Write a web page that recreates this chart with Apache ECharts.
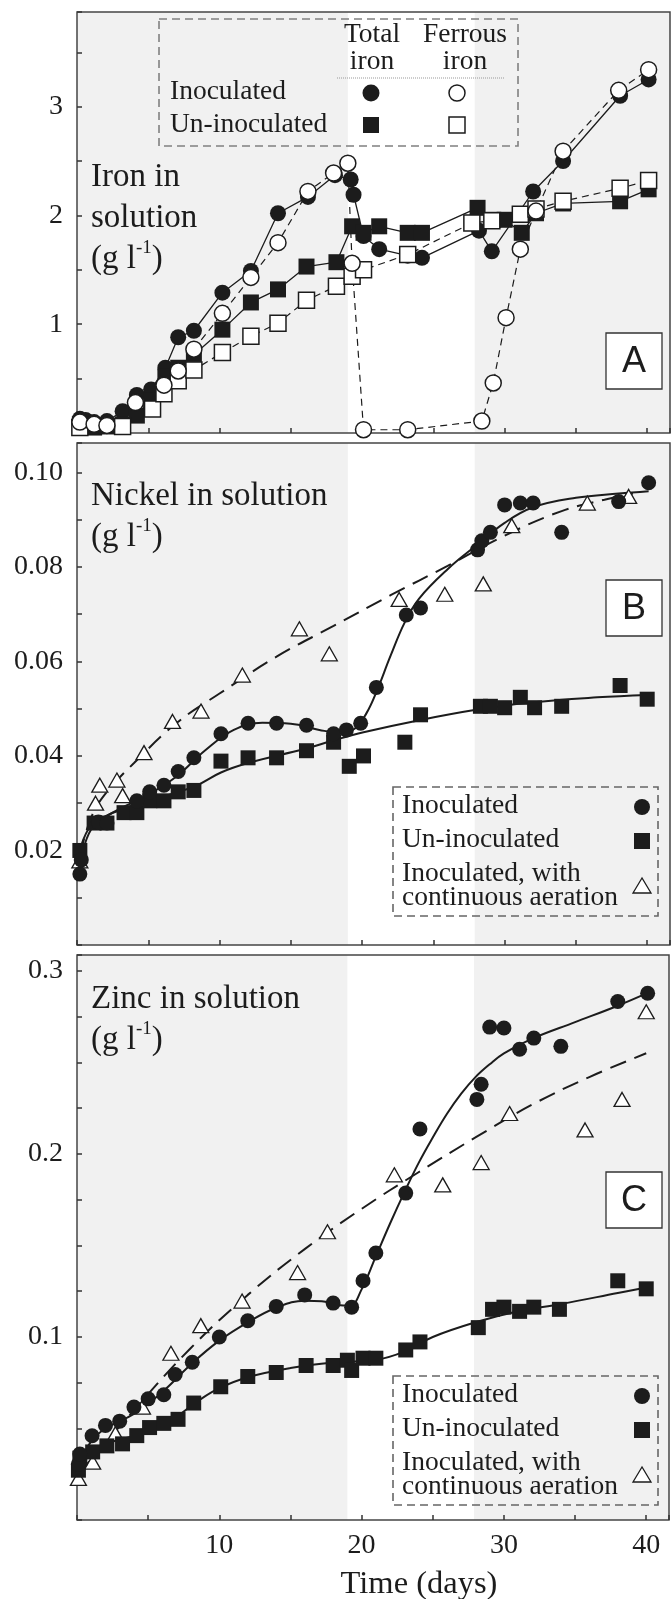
<!DOCTYPE html>
<html><head><meta charset="utf-8">
<script src="https://cdn.jsdelivr.net/npm/echarts@6/dist/echarts.min.js"></script>
<style>html,body{margin:0;padding:0;background:#fff}#c{width:672px;height:1599px}</style>
</head><body><div id="c"></div>
<script>
// ---------- shared ----------
const xTickLabels = [10, 20, 30, 40];
const xMax = 41.6;
const grayPeriods = [[0, 19], [27.9, 41.6]];

// ---------- Panel A : iron (g/l) ----------
const yTicksA = [1, 2, 3];
const ironTotalInoc = [[0.2,0.13],[0.6,0.12],[1.2,0.1],[2.1,0.11],[3.2,0.2],[4.2,0.35],[5.2,0.4],[6.2,0.6],[7.1,0.88],[8.2,0.94],[10.2,1.29],[12.2,1.49],[14.1,2.02],[16.2,2.17],[18.1,2.37],[19.2,2.33],[19.4,2.19],[20.1,1.81],[21.2,1.69],[23.2,1.63],[24.2,1.61],[28.2,1.86],[29.1,1.67],[32.0,2.22],[34.1,2.5],[38.1,3.1],[40.1,3.25]];
const ironTotalUninoc = [[0.2,0.08],[0.6,0.07],[1.2,0.05],[2.1,0.06],[3.2,0.08],[4.2,0.16],[5.2,0.3],[6.2,0.52],[7.1,0.6],[8.2,0.72],[10.2,0.95],[12.2,1.2],[14.1,1.32],[16.1,1.53],[18.2,1.57],[19.3,1.9],[20.1,1.84],[21.2,1.9],[23.2,1.84],[24.2,1.84],[28.1,2.07],[29.2,1.96],[30.0,1.96],[31.2,1.84],[32.2,2.02],[34.1,2.11],[38.1,2.13],[40.1,2.24]];
const ironFerrousInoc = [[0.2,0.1],[1.2,0.08],[2.1,0.07],[4.1,0.28],[6.1,0.44],[7.1,0.57],[8.2,0.77],[10.2,1.1],[12.2,1.43],[14.1,1.75],[16.2,2.22],[18.0,2.39],[19.0,2.48],[19.3,1.56],[20.1,0.03],[23.2,0.03],[28.4,0.11],[29.2,0.46],[30.1,1.06],[31.1,1.69],[32.2,2.04],[34.1,2.59],[38.0,3.15],[40.1,3.34]];
const ironFerrousUninoc = [[0.2,0.05],[3.2,0.06],[5.3,0.22],[6.1,0.36],[7.1,0.48],[8.2,0.58],[10.2,0.74],[12.2,0.89],[14.1,1.01],[16.1,1.22],[18.2,1.35],[19.3,1.44],[20.1,1.5],[23.2,1.64],[27.7,1.93],[29.1,1.95],[31.1,2.01],[32.2,2.06],[34.1,2.13],[38.1,2.25],[40.1,2.32]];

// ---------- Panel B : nickel (g/l) ----------
const yTicksB = [0.02, 0.04, 0.06, 0.08, 0.10];
const niInoc = [[0.2,0.015],[0.3,0.018],[1.5,0.026],[2.1,0.0258],[4.2,0.0305],[5.1,0.0324],[6.1,0.0338],[7.1,0.0367],[8.2,0.0396],[10.1,0.0447],[12.0,0.0469],[14.0,0.0469],[16.1,0.0465],[18.0,0.0447],[18.9,0.0455],[19.9,0.0469],[21.0,0.0545],[23.1,0.0698],[24.1,0.0713],[28.1,0.0836],[28.4,0.0855],[29.0,0.0873],[30.0,0.0931],[31.1,0.0935],[32.0,0.0935],[34.0,0.0873],[38.0,0.0938],[40.1,0.0978]];
const niUninoc = [[0.2,0.02],[1.2,0.0258],[2.1,0.0258],[3.3,0.028],[4.2,0.028],[5.1,0.0305],[6.1,0.0305],[7.1,0.0324],[8.2,0.0327],[10.1,0.0389],[12.0,0.0396],[14.0,0.0396],[16.1,0.0411],[18.0,0.0429],[19.1,0.0378],[20.1,0.04],[23.0,0.0429],[24.1,0.0487],[28.3,0.0505],[29.0,0.0505],[30.0,0.0502],[31.1,0.0524],[32.1,0.0502],[34.0,0.0505],[38.1,0.0549],[40.0,0.052]];
const niAerated = [[0.2,0.0178],[1.3,0.030],[1.6,0.0338],[2.8,0.0349],[3.2,0.0316],[4.7,0.0407],[6.7,0.0473],[8.7,0.0495],[11.6,0.0571],[15.6,0.0669],[17.7,0.0616],[22.6,0.0731],[25.8,0.0742],[28.5,0.0764],[30.5,0.0887],[35.8,0.0935],[38.7,0.0949]];
const niInocFit = [[0.2,0.017],[1,0.0245],[2.5,0.028],[5,0.0318],[7,0.0357],[9,0.0412],[11,0.0455],[13,0.047],[15,0.0468],[17,0.0455],[18.5,0.0449],[19.5,0.0458],[20.3,0.049],[21,0.0535],[22,0.0612],[23,0.0683],[24,0.0733],[26,0.0795],[28,0.0845],[30,0.0893],[32,0.0926],[35,0.0946],[38,0.0955],[40.1,0.096]];
const niUninocFit = [[0.2,0.02],[1.2,0.0258],[5.1,0.0305],[8.2,0.0335],[10.1,0.0365],[12,0.0385],[16,0.0415],[18,0.0433],[20.1,0.045],[24.1,0.0476],[28.1,0.0498],[31.8,0.0513],[36.5,0.0524],[40,0.0529]];
const niAeratedFit = [[0.2,0.019],[1,0.027],[2,0.032],[4,0.0385],[7,0.047],[10,0.0532],[14,0.061],[18,0.0675],[22,0.074],[26,0.0802],[30,0.0866],[34,0.0918],[37,0.0942],[39,0.0955]];

// ---------- Panel C : zinc (g/l) ----------
const yTicksC = [0.1, 0.2, 0.3];
const znInoc = [[0.1,0.0305],[0.2,0.036],[1.06,0.046],[2.0,0.0517],[3.0,0.054],[4.0,0.0617],[5.0,0.0662],[6.1,0.0684],[6.9,0.0795],[8.1,0.0862],[10.0,0.1],[12.0,0.1089],[14.0,0.1167],[16.0,0.123],[18.0,0.1185],[19.3,0.1163],[20.1,0.1307],[21.0,0.1459],[23.1,0.1786],[24.1,0.2136],[28.1,0.2298],[28.4,0.2381],[29.0,0.2693],[30.0,0.2688],[31.1,0.2572],[32.1,0.2633],[34.0,0.2588],[38.0,0.2833],[40.1,0.2878]];
const znUninoc = [[0.1,0.0272],[0.2,0.0338],[1.1,0.0372],[2.1,0.0405],[3.2,0.0416],[4.2,0.0461],[5.1,0.0505],[6.1,0.0528],[7.1,0.055],[8.2,0.0639],[10.1,0.0728],[12.0,0.0784],[14.0,0.0806],[16.1,0.0844],[18.0,0.0844],[19.0,0.0873],[19.3,0.0817],[20.1,0.0884],[21.0,0.0884],[23.1,0.0929],[24.1,0.0973],[28.2,0.1051],[29.2,0.1151],[30.0,0.1163],[31.1,0.114],[32.1,0.1163],[33.9,0.1151],[38.0,0.1307],[40.0,0.1263]];
const znAerated = [[0.1,0.0227],[1.1,0.0316],[2.7,0.0472],[4.6,0.0617],[6.6,0.0911],[8.7,0.1062],[11.6,0.1196],[15.5,0.1352],[17.6,0.1575],[22.3,0.1886],[25.7,0.1831],[28.4,0.1953],[30.4,0.2221],[35.7,0.2131],[38.3,0.2298],[40.0,0.2777]];
const znInocFit = [[0.1,0.03],[1,0.043],[2,0.05],[4,0.058],[6,0.07],[8,0.085],[10,0.098],[12,0.108],[14,0.116],[16,0.1198],[17.2,0.1195],[18.3,0.1175],[19.2,0.1172],[20,0.126],[21,0.144],[22,0.162],[23,0.179],[24,0.195],[25,0.209],[26,0.222],[27,0.233],[28,0.242],[29,0.249],[30,0.255],[32,0.263],[35,0.272],[38,0.281],[40.1,0.288]];
const znUninocFit = [[0.1,0.03],[1.5,0.04],[4,0.046],[6.5,0.054],[8.5,0.065],[10,0.072],[12,0.078],[15,0.083],[18,0.086],[21,0.0875],[23,0.092],[25,0.1],[28,0.108],[31,0.114],[34,0.118],[38,0.124],[40,0.127]];
const znAeratedFit = [[0.1,0.025],[4,0.06],[8,0.094],[12,0.123],[16,0.148],[20,0.17],[24,0.19],[28,0.209],[32,0.227],[36,0.242],[40,0.255]];

// ---------- chart ----------
const FONT = '"Liberation Serif","Times New Roman",serif';
const INK = '#1c1c1c';
const chart = echarts.init(document.getElementById('c'));

const gridBoxes = [
  {left: 77, top: 12, width: 593, height: 421},
  {left: 77, top: 443, width: 593, height: 502},
  {left: 77, top: 955, width: 593, height: 565}
];
const yRanges = [
  {max: 3.87, interval: 0.5, ticks: yTicksA, dec: 0},
  {max: 0.1062, interval: 0.01, ticks: yTicksB, dec: 2},
  {max: 0.3087, interval: 0.025, ticks: yTicksC, dec: 1}
];

const tickStyle = {show: true, inside: true, length: 5, lineStyle: {color: '#333', width: 1.5}};

const xAxes = gridBoxes.map((g, i) => ({
  type: 'value', gridIndex: i, min: 0, max: xMax, interval: 5,
  axisLine: {show: false}, splitLine: {show: false}, axisTick: tickStyle,
  axisLabel: {
    show: i === 2, margin: 12, color: INK, fontFamily: FONT, fontSize: 28,
    formatter: v => xTickLabels.some(t => Math.abs(t - v) < 1e-6) ? String(Math.round(v)) : ''
  }
}));
const yAxes = yRanges.map((r, i) => ({
  type: 'value', gridIndex: i, min: 0, max: r.max, interval: r.interval,
  axisLine: {show: false}, splitLine: {show: false}, axisTick: tickStyle,
  axisLabel: {
    margin: 14, color: INK, fontFamily: FONT, fontSize: 28,
    formatter: v => r.ticks.some(t => Math.abs(t - v) < 1e-9) ? v.toFixed(r.dec) : ''
  }
}));

function shading() {
  return {
    silent: true, z: -1,
    itemStyle: {color: '#f1f1f1', borderWidth: 0},
    data: grayPeriods.map(p => [{xAxis: p[0]}, {xAxis: p[1]}])
  };
}

const series = [];
// Panel A
series.push({type: 'line', xAxisIndex: 0, yAxisIndex: 0, data: ironTotalInoc, symbol: 'circle', symbolSize: 16,
  itemStyle: {color: INK, opacity: 1}, lineStyle: {color: INK, width: 1.3}, clip: false, markArea: shading()});
series.push({type: 'line', xAxisIndex: 0, yAxisIndex: 0, data: ironTotalUninoc, symbol: 'rect', symbolSize: 16,
  itemStyle: {color: INK, opacity: 1}, lineStyle: {color: INK, width: 1.3}, clip: false});
series.push({type: 'line', xAxisIndex: 0, yAxisIndex: 0, data: ironFerrousUninoc, symbol: 'rect', symbolSize: 16,
  itemStyle: {color: '#fff', borderColor: INK, borderWidth: 1.5, opacity: 1}, lineStyle: {color: INK, width: 1.2, type: [7, 5]}, clip: false});
series.push({type: 'line', xAxisIndex: 0, yAxisIndex: 0, data: ironFerrousInoc, symbol: 'circle', symbolSize: 16,
  itemStyle: {color: '#fff', borderColor: INK, borderWidth: 1.5, opacity: 1}, lineStyle: {color: INK, width: 1.2, type: [7, 5]}, clip: false});

function fitLine(ax, data, dashed, extra) {
  return Object.assign({type: 'line', xAxisIndex: ax, yAxisIndex: ax, data, showSymbol: false, symbol: 'none',
    smooth: 0.4, silent: true,
    lineStyle: {color: INK, width: 2, type: dashed ? [17, 9] : 'solid'}}, extra || {});
}
function marks(ax, data, kind) {
  const s = {type: 'scatter', xAxisIndex: ax, yAxisIndex: ax, data, clip: false, z: 3};
  if (kind === 'circle') Object.assign(s, {symbol: 'circle', symbolSize: 15, itemStyle: {color: INK, opacity: 1}});
  if (kind === 'rect') Object.assign(s, {symbol: 'rect', symbolSize: 15, itemStyle: {color: INK, opacity: 1}});
  if (kind === 'tri') Object.assign(s, {symbol: 'triangle', symbolSize: [16, 14], itemStyle: {color: '#fff', borderColor: INK, borderWidth: 1.3, opacity: 1}});
  return s;
}
// Panel B
series.push(fitLine(1, niAeratedFit, true, {markArea: shading()}));
series.push(fitLine(1, niInocFit, false));
series.push(fitLine(1, niUninocFit, false));
series.push(marks(1, niAerated, 'tri'));
series.push(marks(1, niUninoc, 'rect'));
series.push(marks(1, niInoc, 'circle'));
// Panel C
series.push(fitLine(2, znAeratedFit, true, {markArea: shading()}));
series.push(fitLine(2, znInocFit, false));
series.push(fitLine(2, znUninocFit, false));
series.push(marks(2, znAerated, 'tri'));
series.push(marks(2, znUninoc, 'rect'));
series.push(marks(2, znInoc, 'circle'));

// ---------- annotations ----------
const G = [];
const serif = s => `${s}px ${FONT}`;
function text(x, y, t, size, align, vAlign) {
  return {type: 'text', x, y, z: 50, style: {text: t, font: serif(size), fill: INK, align: align || 'left', verticalAlign: vAlign || 'middle'}};
}
const titleRich = {
  t: {fontFamily: FONT, fontSize: 33, lineHeight: 41, fill: INK},
  s: {fontFamily: FONT, fontSize: 19, lineHeight: 26, verticalAlign: 'top', fill: INK}
};
function title(x, y, str) {
  return {type: 'text', x, y, z: 50, style: {text: str, rich: titleRich, fill: INK, align: 'left', verticalAlign: 'top'}};
}
G.push(title(91, 157, '{t|Iron in}\n{t|solution}\n{t|(g l}{s|-1}{t|)}'));
G.push(title(91, 476, '{t|Nickel in solution}\n{t|(g l}{s|-1}{t|)}'));
G.push(title(91, 979, '{t|Zinc in solution}\n{t|(g l}{s|-1}{t|)}'));

// panel letters
[['A', 333], ['B', 580], ['C', 1172]].forEach(([L, y]) => {
  G.push({type: 'rect', z: 50, shape: {x: 606, y, width: 56, height: 56}, style: {fill: '#fff', stroke: '#333', lineWidth: 1.3}});
  G.push({type: 'text', x: 634, y: y + 29, z: 51, style: {text: L, font: '36px "Liberation Sans", Arial, sans-serif', fill: INK, align: 'center', verticalAlign: 'middle'}});
});

// Legend A
G.push({type: 'rect', z: 40, shape: {x: 159, y: 19, width: 359, height: 127}, style: {fill: 'none', stroke: '#808080', lineWidth: 1.6, lineDash: [8, 5]}});
G.push(text(372, 35, 'Total', 27.5, 'center'));
G.push(text(372, 62, 'iron', 27.5, 'center'));
G.push(text(465, 35, 'Ferrous', 27.5, 'center'));
G.push(text(465, 62, 'iron', 27.5, 'center'));
G.push({type: 'line', z: 40, shape: {x1: 337, y1: 78, x2: 505, y2: 78}, style: {stroke: '#999', lineWidth: 1, lineDash: [1, 1]}});
G.push(text(170, 92, 'Inoculated', 27.5));
G.push(text(170, 125, 'Un-inoculated', 27.5));
G.push({type: 'circle', z: 45, shape: {cx: 371, cy: 93, r: 8.5}, style: {fill: INK}});
G.push({type: 'circle', z: 45, shape: {cx: 457, cy: 93, r: 8}, style: {fill: '#fff', stroke: INK, lineWidth: 1.5}});
G.push({type: 'rect', z: 45, shape: {x: 363, y: 117, width: 16, height: 16}, style: {fill: INK}});
G.push({type: 'rect', z: 45, shape: {x: 449, y: 117, width: 16, height: 16}, style: {fill: '#fff', stroke: INK, lineWidth: 1.5}});

// Legends B and C
function legend3(top) {
  G.push({type: 'rect', z: 40, shape: {x: 393, y: top, width: 265, height: 129}, style: {fill: 'none', stroke: '#666', lineWidth: 1.6, lineDash: [8, 5]}});
  G.push(text(402, top + 19, 'Inoculated', 27.5));
  G.push(text(402, top + 53, 'Un-inoculated', 27.5));
  G.push(text(402, top + 87, 'Inoculated, with', 27.5));
  G.push(text(402, top + 111, 'continuous aeration', 27.5));
  G.push({type: 'circle', z: 45, shape: {cx: 642, cy: top + 20, r: 8}, style: {fill: INK}});
  G.push({type: 'rect', z: 45, shape: {x: 634, y: top + 46, width: 16, height: 16}, style: {fill: INK}});
  G.push({type: 'polygon', z: 45, shape: {points: [[642, top + 91], [633, top + 106], [651, top + 106]]}, style: {fill: '#fff', stroke: INK, lineWidth: 1.3}});
}
legend3(787);
legend3(1376);

G.push(text(419, 1584, 'Time (days)', 32.5, 'center'));

chart.setOption({
  animation: false,
  backgroundColor: '#fff',
  grid: gridBoxes.map(g => Object.assign({show: true, borderColor: '#454545', borderWidth: 1.5, backgroundColor: 'transparent'}, g)),
  xAxis: xAxes,
  yAxis: yAxes,
  series,
  graphic: G
});
</script>
</body></html>
